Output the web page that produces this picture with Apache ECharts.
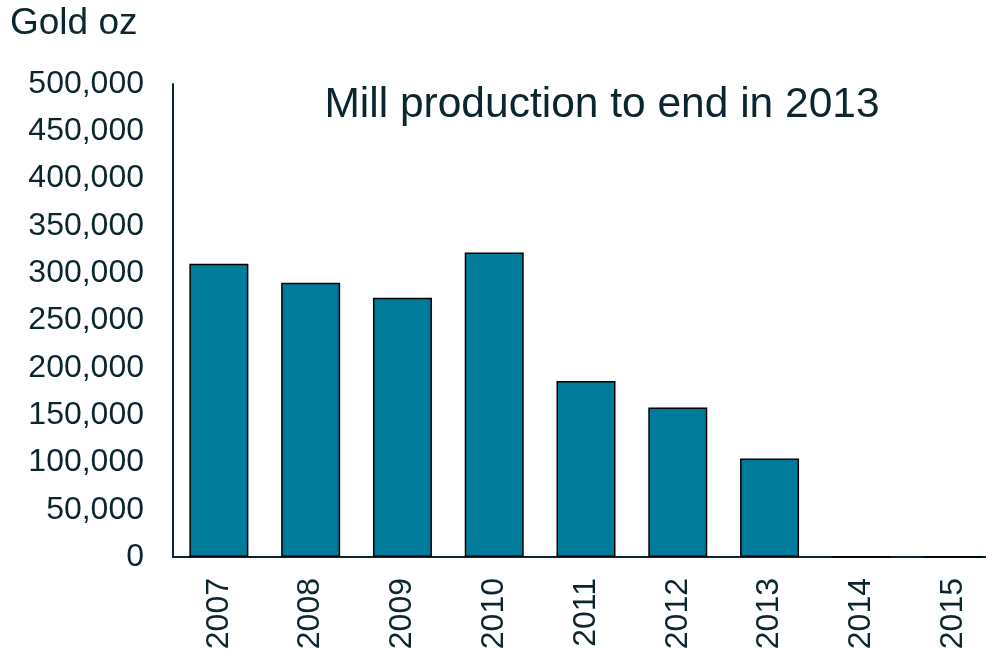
<!DOCTYPE html>
<html>
<head>
<meta charset="utf-8">
<script src="https://cdn.jsdelivr.net/npm/echarts@6/dist/echarts.min.js"></script>
<style>
  html, body { margin: 0; padding: 0; background: #fff; }
  #chart { width: 986px; height: 650px; }
</style>
</head>
<body>
<div id="chart"></div>
<script>
// Mill production by year (gold oz)
const years = ['2007', '2008', '2009', '2010', '2011', '2012', '2013', '2014', '2015'];
const goldOz = [310000, 290000, 274000, 322000, 186000, 158000, 104000, 0, 0];
const yTicks = { min: 0, max: 500000, interval: 50000 };

const textColor = '#0b262e';
const fontFamily = '"Liberation Sans", Arial, sans-serif';

const chart = echarts.init(document.getElementById('chart'), null, { renderer: 'canvas' });

chart.setOption({
  animation: false,
  // the plot runs slightly past the right edge in the original
  grid: { left: 173, width: 826, top: 84, bottom: 93, outerBoundsMode: 'none' },
  xAxis: {
    type: 'category',
    data: years,
    axisLine: { lineStyle: { color: textColor, width: 2 } },
    axisTick: { show: false },
    axisLabel: {
      rotate: 90,
      margin: 21,
      color: textColor,
      fontSize: 32,
      fontFamily: fontFamily
    }
  },
  yAxis: {
    type: 'value',
    min: yTicks.min,
    max: yTicks.max,
    interval: yTicks.interval,
    axisLine: { show: true, lineStyle: { color: textColor, width: 2 } },
    axisTick: { show: false },
    splitLine: { show: false },
    axisLabel: {
      margin: 29,
      color: textColor,
      fontSize: 32,
      fontFamily: fontFamily,
      formatter: v => v.toLocaleString('en-US')
    }
  },
  graphic: [
    {
      type: 'text', left: 10, top: 5,
      style: { text: 'Gold oz', fill: textColor, fontSize: 37, fontFamily: fontFamily }
    },
    {
      type: 'text', x: 602, y: 105,
      style: {
        text: 'Mill production to end in 2013', fill: textColor,
        fontSize: 42.5, fontFamily: fontFamily, align: 'center', verticalAlign: 'middle'
      }
    }
  ],
  series: [{
    type: 'bar',
    data: goldOz,
    barWidth: 59,
    itemStyle: { color: '#007b99', borderColor: '#000', borderWidth: 1.5 }
  }]
});
</script>
</body>
</html>
